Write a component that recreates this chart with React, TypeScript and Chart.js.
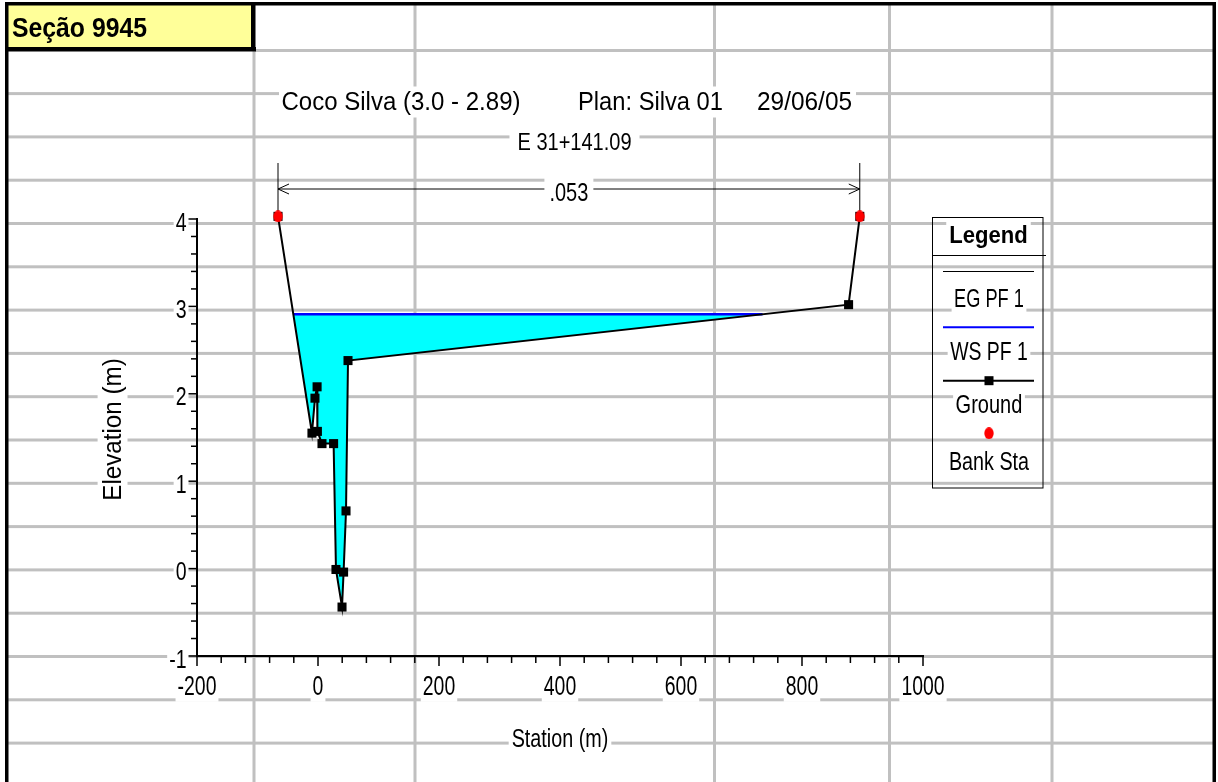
import React, { useEffect, useRef } from 'react';
import { Chart, registerables } from 'chart.js';

Chart.register(...registerables);

const W = 1218;
const H = 782;
const FONT = '"Liberation Sans", Arial, Helvetica, sans-serif';

// ---------------- data ----------------
const groundStation = [-66.1, -10.0, -5.0, -1.5, -1.0, 6.6, 25.8, 29.7, 39.7, 42.3, 46.3, 49.6, 877.0, 895.5];
const groundElevation = [4.03, 1.55, 1.95, 2.08, 1.57, 1.43, 1.43, -0.01, -0.44, -0.04, 0.66, 2.38, 3.02, 4.03];
const bankStation = [-66.1, 895.5];
const bankElevation = [4.03, 4.03];
const wsElevation = 2.91;
const egElevation = 2.91;
const manningStations = [-66.1, 895.5];
const manningValues = ['.053'];

const xMin = -200;
const xMax = 1000;
const xMinorStep = 40;
const xLabelStep = 200;
const yMin = -1;
const yMax = 4;
const yMinorStep = 0.2;

const sheetTitle = 'Seção 9945';
const plotTitleParts = ['Coco Silva (3.0 - 2.89)', 'Plan: Silva 01', '29/06/05'];
const plotSubtitle = 'E 31+141.09';
const xTitle = 'Station (m)';
const yTitle = 'Elevation (m)';
const legendTitle = 'Legend';
const seriesNames = ['EG PF 1', 'WS PF 1', 'Ground', 'Bank Sta'];

// ---------------- helpers ----------------
function levelGeometry(level: number) {
  const cross: { x: number; i: number }[] = [];
  for (let i = 0; i < groundStation.length - 1; i++) {
    const e0 = groundElevation[i];
    const e1 = groundElevation[i + 1];
    if ((e0 - level) * (e1 - level) < 0) {
      const t = (level - e0) / (e1 - e0);
      cross.push({ x: groundStation[i] + t * (groundStation[i + 1] - groundStation[i]), i });
    }
  }
  const L = cross[0];
  const R = cross[cross.length - 1];
  const poly: { x: number; y: number }[] = [{ x: L.x, y: level }];
  for (let k = L.i + 1; k <= R.i; k++) poly.push({ x: groundStation[k], y: groundElevation[k] });
  poly.push({ x: R.x, y: level });
  poly.push({ x: L.x, y: level });
  return { left: L.x, right: R.x, poly };
}

type TxtOpts = {
  size: number;
  sx?: number;
  align?: 'left' | 'center' | 'right';
  bold?: boolean;
  bg?: boolean;
  padX?: number;
  color?: string;
};

function drawText(ctx: CanvasRenderingContext2D, s: string, x: number, y: number, o: TxtOpts) {
  ctx.save();
  ctx.font = `${o.bold ? 'bold ' : ''}${o.size}px ${FONT}`;
  const sx = o.sx ?? 1;
  const w = ctx.measureText(s).width * sx;
  const left = o.align === 'center' ? x - w / 2 : o.align === 'right' ? x - w : x;
  if (o.bg) {
    const p = o.padX ?? 3;
    ctx.fillStyle = '#ffffff';
    ctx.fillRect(left - p, y - o.size * 0.9, w + 2 * p, o.size * 1.15);
  }
  ctx.translate(left, y);
  ctx.scale(sx, 1);
  ctx.fillStyle = o.color ?? '#000000';
  ctx.textAlign = 'left';
  ctx.textBaseline = 'alphabetic';
  ctx.fillText(s, 0, 0);
  ctx.restore();
}

function makeEllipse(): HTMLCanvasElement {
  const c = document.createElement('canvas');
  c.width = 10;
  c.height = 12;
  const g = c.getContext('2d')!;
  g.fillStyle = '#ff0000';
  g.beginPath();
  g.ellipse(5, 6, 4.7, 5.9, 0, 0, Math.PI * 2);
  g.fill();
  return c;
}

// ---------------- plugins ----------------
const sheetPlugin = {
  id: 'sheet',
  beforeDraw(chart: any) {
    const ctx: CanvasRenderingContext2D = chart.ctx;
    ctx.save();
    ctx.fillStyle = '#ffffff';
    ctx.fillRect(0, 0, W, H);
    ctx.fillStyle = '#ffff99';
    ctx.fillRect(8, 5, 244, 43);
    ctx.fillStyle = '#c0c0c0';
    for (let k = 1; k <= 16; k++) {
      const y = 50.3 + 43.3 * k;
      ctx.fillRect(8, y - 1.5, 1205, 3);
    }
    ctx.fillRect(255, 49, 958, 3);
    const cols = [254, 415, 714.5, 889.5, 1052];
    cols.forEach((x) => {
      const y0 = x < 260 ? 51 : 4;
      ctx.fillRect(x - 1.5, y0, 3, H - y0);
    });
    ctx.fillStyle = '#000000';
    ctx.fillRect(5, 2, 1211, 3.5);
    ctx.fillRect(5, 2, 3.5, H);
    ctx.fillRect(1212.5, 2, 3.5, H);
    ctx.fillRect(5, 47, 251, 4.5);
    ctx.fillRect(251, 2, 4.5, 49);
    ctx.restore();
    drawText(ctx, sheetTitle, 12, 37, { size: 28, sx: 0.885, bold: true });
  },
};

const overlayPlugin = {
  id: 'overlay',
  afterDraw(chart: any) {
    const ctx: CanvasRenderingContext2D = chart.ctx;
    const xs = chart.scales.x;
    const ys = chart.scales.y;
    const a = chart.chartArea;
    ctx.save();
    ctx.strokeStyle = '#000';
    ctx.lineWidth = 1.5;
    const nx = Math.round((xMax - xMin) / xMinorStep);
    for (let k = 0; k <= nx; k++) {
      const v = xMin + k * xMinorStep;
      const px = xs.getPixelForValue(v);
      const major = Math.abs(v / xLabelStep - Math.round(v / xLabelStep)) < 1e-9;
      ctx.beginPath();
      ctx.moveTo(px, a.bottom);
      ctx.lineTo(px, a.bottom + (major ? 10 : 7));
      ctx.stroke();
    }
    const ny = Math.round((yMax - yMin) / yMinorStep);
    for (let k = 0; k <= ny; k++) {
      const v = yMin + k * yMinorStep;
      const py = ys.getPixelForValue(v);
      const major = Math.abs(v - Math.round(v)) < 1e-6;
      ctx.beginPath();
      ctx.moveTo(a.left - (major ? 9 : 6), py);
      ctx.lineTo(a.left, py);
      ctx.stroke();
    }
    ctx.restore();
    for (let k = 0; k <= nx; k++) {
      const v = xMin + k * xMinorStep;
      if (Math.abs(v / xLabelStep - Math.round(v / xLabelStep)) < 1e-9) {
        drawText(ctx, String(Math.round(v)), xs.getPixelForValue(v), a.bottom + 39, { size: 27, sx: 0.72, align: 'center', bg: true, padX: 2 });
      }
    }
    for (let k = 0; k <= ny; k++) {
      const v = yMin + k * yMinorStep;
      if (Math.abs(v - Math.round(v)) < 1e-6) {
        drawText(ctx, String(Math.round(v)), a.left - 10.5, ys.getPixelForValue(v) + 11.5, { size: 25, sx: 0.78, align: 'right', bg: true, padX: 2 });
      }
    }
    drawText(ctx, xTitle, (a.left + a.right) / 2, 746.5, { size: 26, sx: 0.76, align: 'center', bg: true, padX: 3 });
    ctx.save();
    ctx.translate(121, (a.top + a.bottom) / 2 - 8);
    ctx.rotate(-Math.PI / 2);
    drawText(ctx, yTitle, 0, 0, { size: 26, sx: 0.93, align: 'center', bg: true, padX: 3 });
    ctx.restore();

    ctx.save();
    ctx.fillStyle = '#fff';
    ctx.fillRect(279, 86.5, 577, 31);
    ctx.restore();
    const starts = [281.5, 578, 757];
    const sxs = [0.924, 0.912, 0.939];
    plotTitleParts.forEach((t, i) => drawText(ctx, t, starts[i], 110, { size: 26, sx: sxs[i] }));
    drawText(ctx, plotSubtitle, 574.5, 150, { size: 23, sx: 0.87, align: 'center', bg: true, padX: 8 });

    const yArrow = a.top - 30;
    ctx.save();
    ctx.strokeStyle = '#000';
    ctx.lineWidth = 1;
    for (let i = 0; i < manningStations.length; i++) {
      const px = xs.getPixelForValue(manningStations[i]);
      ctx.beginPath();
      ctx.moveTo(px, a.top - 56);
      ctx.lineTo(px, ys.getPixelForValue(bankElevation[0]) - 6);
      ctx.stroke();
    }
    for (let i = 0; i < manningValues.length; i++) {
      const p0 = xs.getPixelForValue(manningStations[i]);
      const p1 = xs.getPixelForValue(manningStations[i + 1]);
      ctx.beginPath();
      ctx.moveTo(p0, yArrow);
      ctx.lineTo(p1, yArrow);
      ctx.moveTo(p0 + 11, yArrow - 5);
      ctx.lineTo(p0, yArrow);
      ctx.lineTo(p0 + 11, yArrow + 5);
      ctx.moveTo(p1 - 11, yArrow - 5);
      ctx.lineTo(p1, yArrow);
      ctx.lineTo(p1 - 11, yArrow + 5);
      ctx.stroke();
      drawText(ctx, manningValues[i], (p0 + p1) / 2, yArrow + 12, { size: 26, sx: 0.77, align: 'center', bg: true, padX: 5 });
    }
    ctx.restore();

    const ds = chart.data.datasets;
    const byLabel = (l: string) => ds.find((d: any) => d.label === l);
    const lx0 = 932.5;
    const lx1 = 1043;
    const cx = 989;
    ctx.save();
    ctx.strokeStyle = '#000';
    ctx.lineWidth = 1;
    ctx.strokeRect(lx0, 217.5, lx1 - lx0, 270.5);
    ctx.beginPath();
    ctx.moveTo(lx0, 255.5);
    ctx.lineTo(1046, 255.5);
    ctx.stroke();
    ctx.restore();
    drawText(ctx, legendTitle, cx - 0.5, 243, { size: 24, sx: 0.92, bold: true, align: 'center', bg: true, padX: 3 });

    const eg = byLabel(seriesNames[0]);
    const ws = byLabel(seriesNames[1]);
    const gr = byLabel(seriesNames[2]);
    const bk = byLabel(seriesNames[3]);
    const seg = (y: number, d: any, w: number) => {
      ctx.save();
      ctx.strokeStyle = d.borderColor;
      ctx.lineWidth = w;
      ctx.beginPath();
      ctx.moveTo(943, y);
      ctx.lineTo(1034, y);
      ctx.stroke();
      ctx.restore();
    };
    seg(271.5, eg, eg.borderWidth);
    drawText(ctx, seriesNames[0], cx, 306.5, { size: 26, sx: 0.7, align: 'center', bg: true, padX: 2.5 });
    seg(327.3, ws, 2);
    drawText(ctx, seriesNames[1], cx, 360, { size: 26, sx: 0.747, align: 'center', bg: true, padX: 2.5 });
    seg(380.7, gr, gr.borderWidth);
    ctx.save();
    ctx.fillStyle = gr.pointBackgroundColor;
    ctx.fillRect(cx - 4.5, 380.7 - 4.5, 9, 9);
    ctx.restore();
    drawText(ctx, seriesNames[2], cx, 413, { size: 26, sx: 0.77, align: 'center', bg: true, padX: 2.5 });
    const img = bk.pointStyle as HTMLCanvasElement;
    ctx.drawImage(img, cx - img.width / 2, 433.3 - img.height / 2);
    drawText(ctx, seriesNames[3], cx, 470, { size: 26, sx: 0.76, align: 'center', bg: true, padX: 2.5 });
  },
};

export default function App() {
  const ref = useRef<HTMLCanvasElement>(null);

  useEffect(() => {
    const canvas = ref.current;
    if (!canvas) return;
    const ws = levelGeometry(wsElevation);
    const eg = levelGeometry(egElevation);
    const ellipse = makeEllipse();

    const chart = new Chart(canvas, {
      type: 'line',
      data: {
        datasets: [
          {
            label: seriesNames[3],
            data: bankStation.map((x, i) => ({ x, y: bankElevation[i] })),
            showLine: false,
            pointStyle: ellipse as any,
            pointRadius: 6,
            borderWidth: 0,
            clip: false as any,
          },
          {
            label: seriesNames[2],
            data: groundStation.map((x, i) => ({ x, y: groundElevation[i] })),
            borderColor: '#000000',
            borderWidth: 2,
            pointStyle: 'rect',
            pointRadius: 6.4,
            pointBackgroundColor: '#000000',
            pointBorderWidth: 0,
            fill: false,
            clip: false as any,
          },
          {
            label: seriesNames[1],
            data: [
              { x: ws.left, y: wsElevation },
              { x: ws.right, y: wsElevation },
            ],
            borderColor: '#0000ff',
            borderWidth: 2.5,
            pointRadius: 0,
            fill: false,
          },
          {
            label: seriesNames[0],
            data: [
              { x: eg.left, y: egElevation },
              { x: eg.right, y: egElevation },
            ],
            borderColor: '#000000',
            borderWidth: 1,
            pointRadius: 0,
            fill: false,
          },
          {
            label: 'water',
            data: ws.poly,
            borderColor: 'rgba(0,0,0,0)',
            borderWidth: 0,
            backgroundColor: '#00ffff',
            pointRadius: 0,
            fill: 'shape' as any,
          },
        ],
      },
      options: {
        responsive: false,
        animation: false,
        devicePixelRatio: 1,
        events: [],
        layout: { padding: { left: 0, top: 219, right: 295, bottom: 66 } },
        plugins: {
          legend: { display: false },
          tooltip: { enabled: false },
          title: { display: false },
        },
        scales: {
          x: {
            type: 'linear',
            min: xMin,
            max: xMax,
            ticks: { display: false, stepSize: xMinorStep },
            grid: { display: false },
            border: { display: true, color: '#000000', width: 2 },
            afterFit: (s: any) => {
              s.height = 60;
            },
          },
          y: {
            type: 'linear',
            min: yMin,
            max: yMax,
            ticks: { display: false, stepSize: yMinorStep },
            grid: { display: false },
            border: { display: true, color: '#000000', width: 2 },
            afterFit: (s: any) => {
              s.width = 197;
            },
          },
        },
      } as any,
      plugins: [sheetPlugin, overlayPlugin],
    });
    return () => chart.destroy();
  }, []);

  return (
    <div style={{ position: 'fixed', left: 0, top: 0, width: W, height: H }}>
      <canvas ref={ref} width={W} height={H} style={{ display: 'block', width: W, height: H }} />
    </div>
  );
}
